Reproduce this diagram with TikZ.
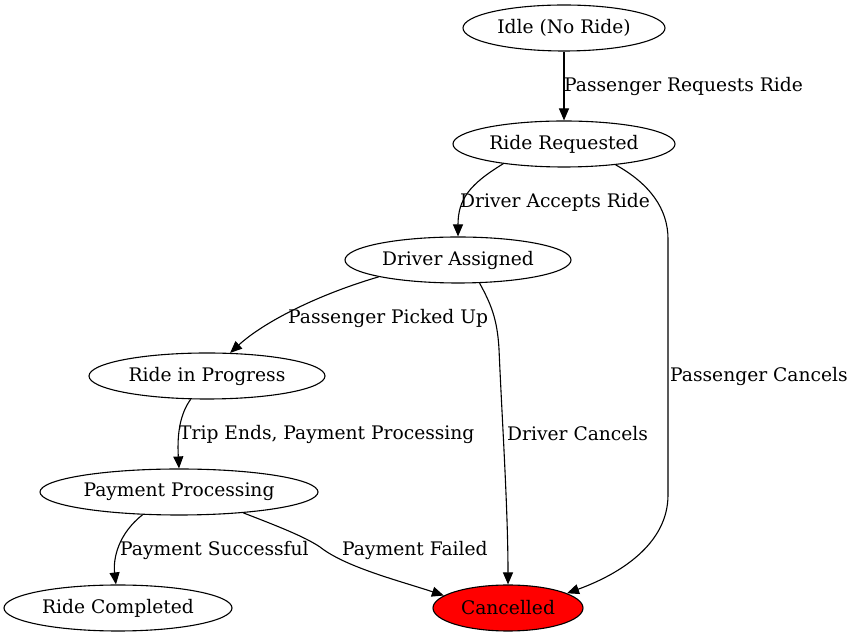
\documentclass[tikz,border=0pt]{standalone}
\usepackage{fontspec}
\setmainfont{DejaVu Serif}
\usetikzlibrary{shapes.geometric,arrows.meta}
\begin{document}
\begin{tikzpicture}[x=1pt,y=1pt,
  st/.style={draw,ellipse,line width=1.1pt,inner sep=0pt,minimum height=46pt,font=\fontsize{18.67}{22}\selectfont},
  ed/.style={line width=1.1pt,-{Triangle[length=12pt,width=10pt]}},
  lb/.style={anchor=west,inner sep=1pt,font=\fontsize{18.67}{22}\selectfont}]
\useasboundingbox (0,0) rectangle (854,639);
\node[st,minimum width=202pt] (idle) at (564,611) {Idle (No Ride)};
\node[st,minimum width=222pt] (rr) at (564,495) {Ride Requested};
\node[st,minimum width=226pt] (da) at (458,379) {Driver Assigned};
\node[st,minimum width=236pt] (rip) at (207,263) {Ride in Progress};
\node[st,minimum width=278pt] (pp) at (179,147) {Payment Processing};
\node[st,minimum width=228pt] (rc) at (118,31) {Ride Completed};
\node[st,minimum width=150pt,fill=red] (can) at (508,31) {Cancelled};

\draw[ed] (idle) -- (rr);
\node[lb] (l1) at (563,553) {Passenger Requests Ride};

\draw[ed] (rr.198) .. controls (470,455) and (458,440) .. (da.north);
\node[lb] (l2) at (459,437) {Driver Accepts Ride};

\draw[ed] (rr.-22) .. controls (650,455) and (668,430) .. (668,400) -- (668,144) .. controls (668,95) and (620,65) .. (can.14.5);
\node[lb] (l3) at (669,263) {Passenger Cancels};

\draw[ed] (da.-168) .. controls (320,345) and (265,318) .. (rip.45);
\node[lb] (l4) at (287,321) {Passenger Picked Up};

\draw[ed] (da.-47.5) .. controls (491,335) and (497.3,320) .. (499,290) .. controls (502,220) and (508,130) .. (can.north);
\node[lb] (l5) at (506,205) {Driver Cancels};

\draw[ed] (rip.-125) .. controls (180,225) and (177,205) .. (pp.north);
\node[lb] (l6) at (178,205) {Trip Ends, Payment Processing};

\draw[ed] (pp.-148) .. controls (118,105) and (113,80) .. (rc.95);
\node[lb] (l7) at (119,89) {Payment Successful};

\draw[ed] (pp.-18.4) .. controls (280,112) and (305,102) .. (320,92) .. controls (345,72) and (400,58) .. (can.169.8);
\node[lb] (l8) at (341,89) {Payment Failed};
\end{tikzpicture}
\end{document}
